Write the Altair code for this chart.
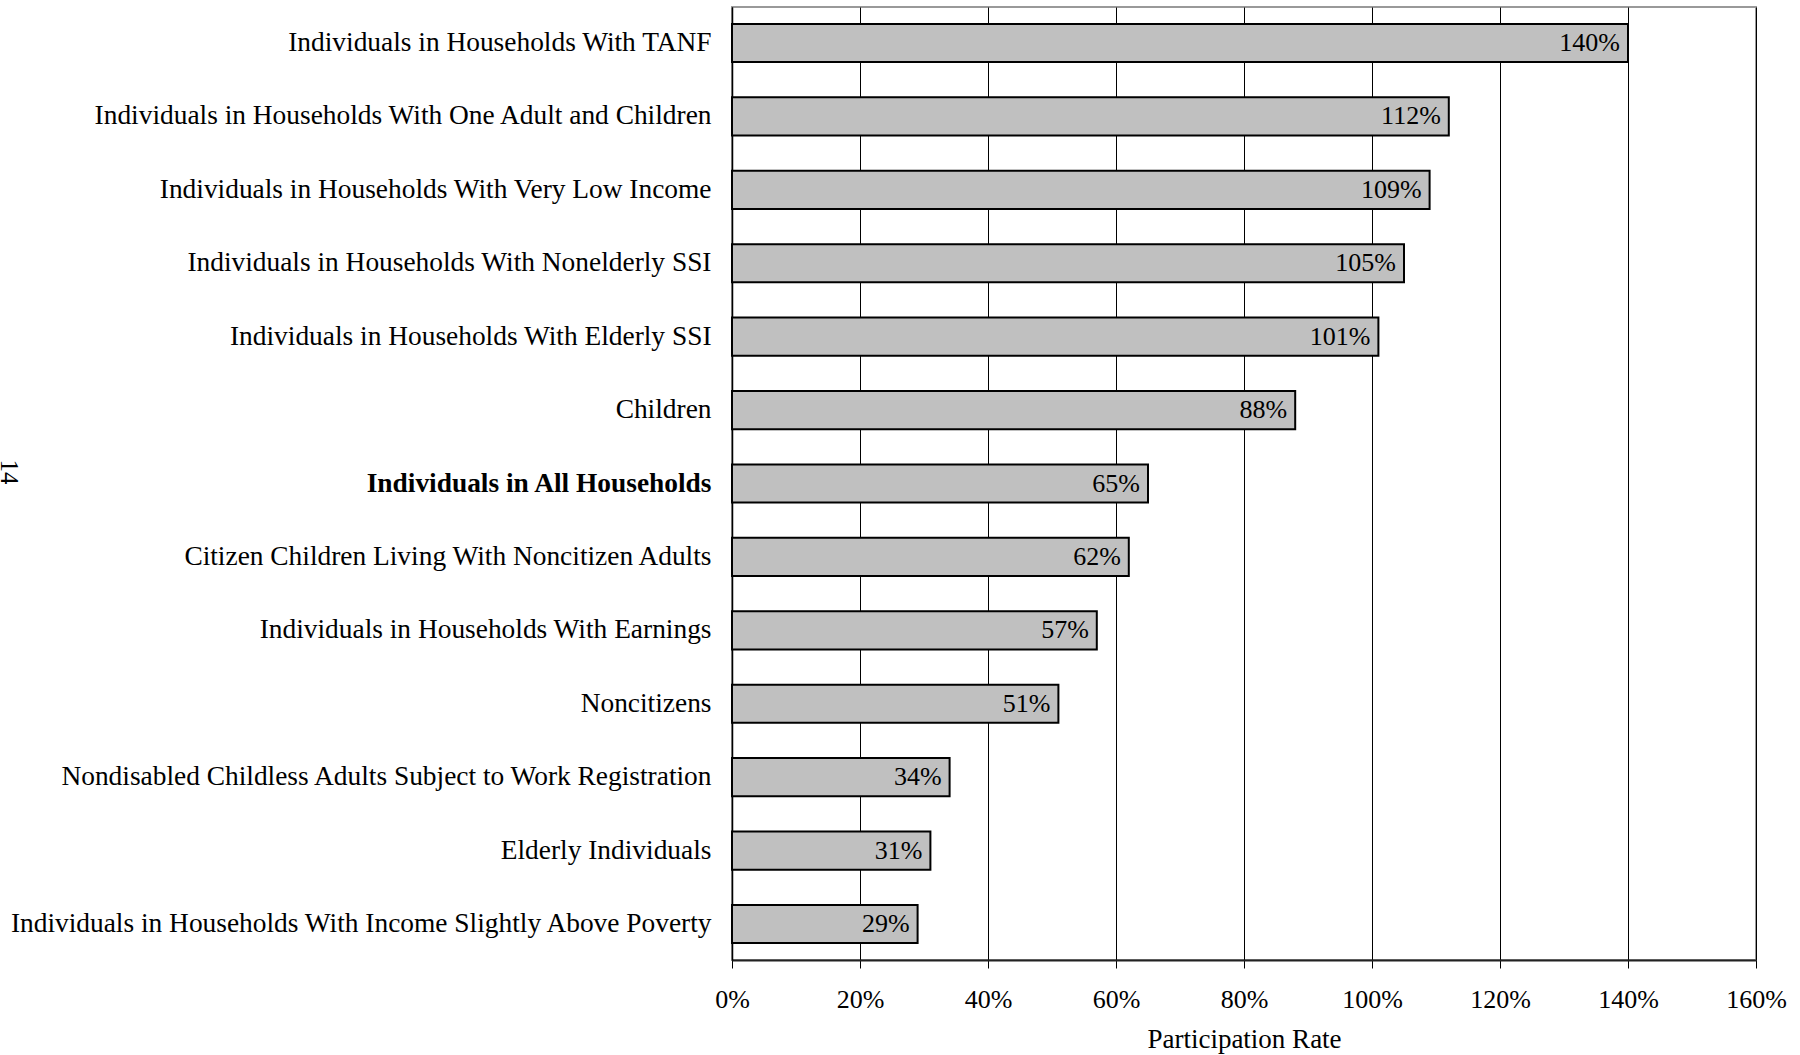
import altair as alt
import pandas as pd

categories = [
    "Individuals in Households With TANF",
    "Individuals in Households With One Adult and Children",
    "Individuals in Households With Very Low Income",
    "Individuals in Households With Nonelderly SSI",
    "Individuals in Households With Elderly SSI",
    "Children",
    "Individuals in All Households",
    "Citizen Children Living With Noncitizen Adults",
    "Individuals in Households With Earnings",
    "Noncitizens",
    "Nondisabled Childless Adults Subject to Work Registration",
    "Elderly Individuals",
    "Individuals in Households With Income Slightly Above Poverty",
]
rates = [140, 112, 109, 105, 101, 88, 65, 62, 57, 51, 34, 31, 29]
x_ticks = [0, 20, 40, 60, 80, 100, 120, 140, 160]
bold_category = "Individuals in All Households"
page_number = ["14"]

df = pd.DataFrame({"group": categories, "rate": rates})
df["label"] = [f"{v}%" for v in rates]

FONT = "Liberation Serif"

y_enc = alt.Y(
    "group:N",
    sort=categories,
    title=None,
    scale=alt.Scale(paddingInner=0.48, paddingOuter=0.23),
    axis=alt.Axis(
        ticks=False,
        labelPadding=21,
        labelLimit=900,
        labelFont=FONT,
        labelFontSize=27.4,
        labelColor="black",
        labelFontWeight={"expr": f"datum.value == '{bold_category}' ? 'bold' : 'normal'"},
        domainColor="black",
        domainWidth=1.5,
        grid=False,
    ),
)

x_enc = alt.X(
    "rate:Q",
    title="Participation Rate",
    scale=alt.Scale(domain=[0, 160], nice=False),
    axis=alt.Axis(
        values=x_ticks,
        labelExpr="datum.value + '%'",
        labelFlush=False,
        labelFont=FONT,
        labelFontSize=26,
        labelColor="black",
        labelPadding=18,
        tickSize=8,
        tickColor="black",
        tickWidth=1,
        domainColor="#222222",
        domainWidth=2,
        grid=True,
        gridColor="black",
        gridWidth=1,
        gridOpacity=1,
        titleFont=FONT,
        titleFontSize=27,
        titleFontWeight="normal",
        titleColor="black",
        titlePadding=14,
    ),
)

bars = alt.Chart(df).mark_bar(
    color="#c0c0c0", stroke="black", strokeWidth=2
).encode(y=y_enc, x=x_enc)

texts = alt.Chart(df).mark_text(
    align="right", baseline="middle", dx=-8, font=FONT, fontSize=26, color="black"
).encode(y=alt.Y("group:N", sort=categories), x="rate:Q", text="label:N")

page = alt.Chart(pd.DataFrame({"p": page_number})).mark_text(
    angle=90, align="center", baseline="alphabetic", font=FONT, fontSize=25, color="black"
).encode(x=alt.value(-731), y=alt.value(465), text="p:N")

chart = (
    alt.layer(bars, texts, page)
    .properties(
        width=1024,
        height=953,
        padding={"left": 732, "top": 7, "right": 44, "bottom": 95},
        autosize=alt.AutoSizeParams(type="none"),
        background="white",
    )
    .configure_view(stroke="#999999", strokeWidth=2)
)

chart.save("out.html", embed_options={"renderer": "svg", "actions": False})
